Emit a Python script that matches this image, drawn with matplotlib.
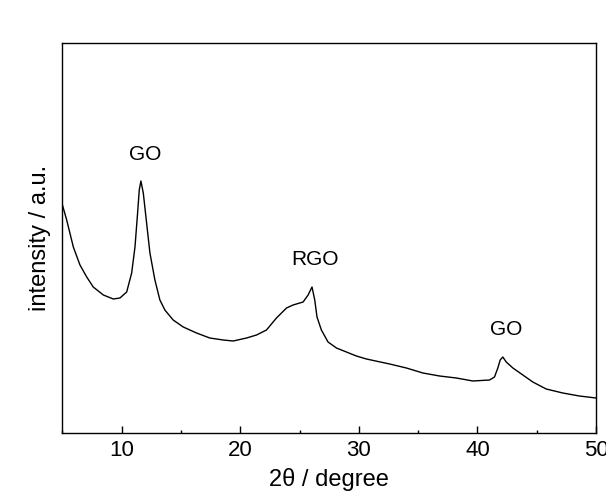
import numpy as np
import matplotlib
matplotlib.use("Agg")
import matplotlib.pyplot as plt
from matplotlib.ticker import MultipleLocator

plt.rcParams['font.family'] = ['Liberation Sans', 'DejaVu Sans']

# XRD pattern (2theta in degrees, intensity in arbitrary units)
two_theta = [5.0, 5.36, 5.92, 6.48, 7.05, 7.60, 8.45, 9.29, 9.85, 10.42,
             10.84, 11.12, 11.34, 11.48, 11.62, 11.82, 12.10, 12.38, 12.80, 13.22,
             13.64, 14.34, 15.19, 16.31, 17.43, 18.56, 19.40, 20.53, 21.37, 22.21,
             23.05, 23.90, 24.45, 25.30, 25.72, 26.05, 26.28, 26.47, 26.84, 27.40,
             28.11, 28.95, 29.79, 30.64, 32.60, 34.01, 35.40, 36.81, 38.22, 39.62,
             41.02, 41.44, 41.72, 41.92, 42.14, 42.43, 42.99, 43.83, 44.67, 45.80,
             47.20, 48.60, 50.0]
intensity = [227, 212, 185, 167, 155, 145, 137, 133, 134, 140,
             159, 185, 219, 242, 251, 239, 209, 179, 152, 132,
             122, 112, 105, 99, 94, 92, 91, 94, 97, 102,
             114, 124, 127, 130, 137, 145, 132, 115, 102, 90,
             84, 80, 76, 73, 68, 64, 59, 56, 54, 51,
             52, 55, 64, 72, 75, 70, 64, 57, 50, 43,
             39, 36, 34]

# peak assignments
peak_labels = ['GO', 'RGO', 'GO']
peak_pos = [11.96, 26.3, 42.4]
peak_height = [277, 172, 102]

fig = plt.figure(figsize=(6.06, 4.93), dpi=100)
ax = fig.add_axes([0.103, 0.1217, 0.8805, 0.7911])

ax.plot(two_theta, intensity, color='black', linewidth=1.0)

for lab, x, y in zip(peak_labels, peak_pos, peak_height):
    ax.text(x, y, lab, fontsize=15, ha='center', va='center')

ax.set_xlim(5, 50)
ax.set_ylim(-1, 389)
ax.xaxis.set_major_locator(MultipleLocator(10))
ax.xaxis.set_minor_locator(MultipleLocator(5))
ax.tick_params(axis='x', which='major', direction='in', length=5, width=1,
               labelsize=16, pad=5)
ax.tick_params(axis='x', which='minor', direction='in', length=2.5, width=1)
ax.set_yticks([])

for sp in ax.spines.values():
    sp.set_linewidth(1.0)

ax.set_xlabel('2θ / degree', fontsize=17, labelpad=5)
ax.set_ylabel('intensity / a.u.', fontsize=17, labelpad=8)

fig.savefig('out.png', dpi=100)
